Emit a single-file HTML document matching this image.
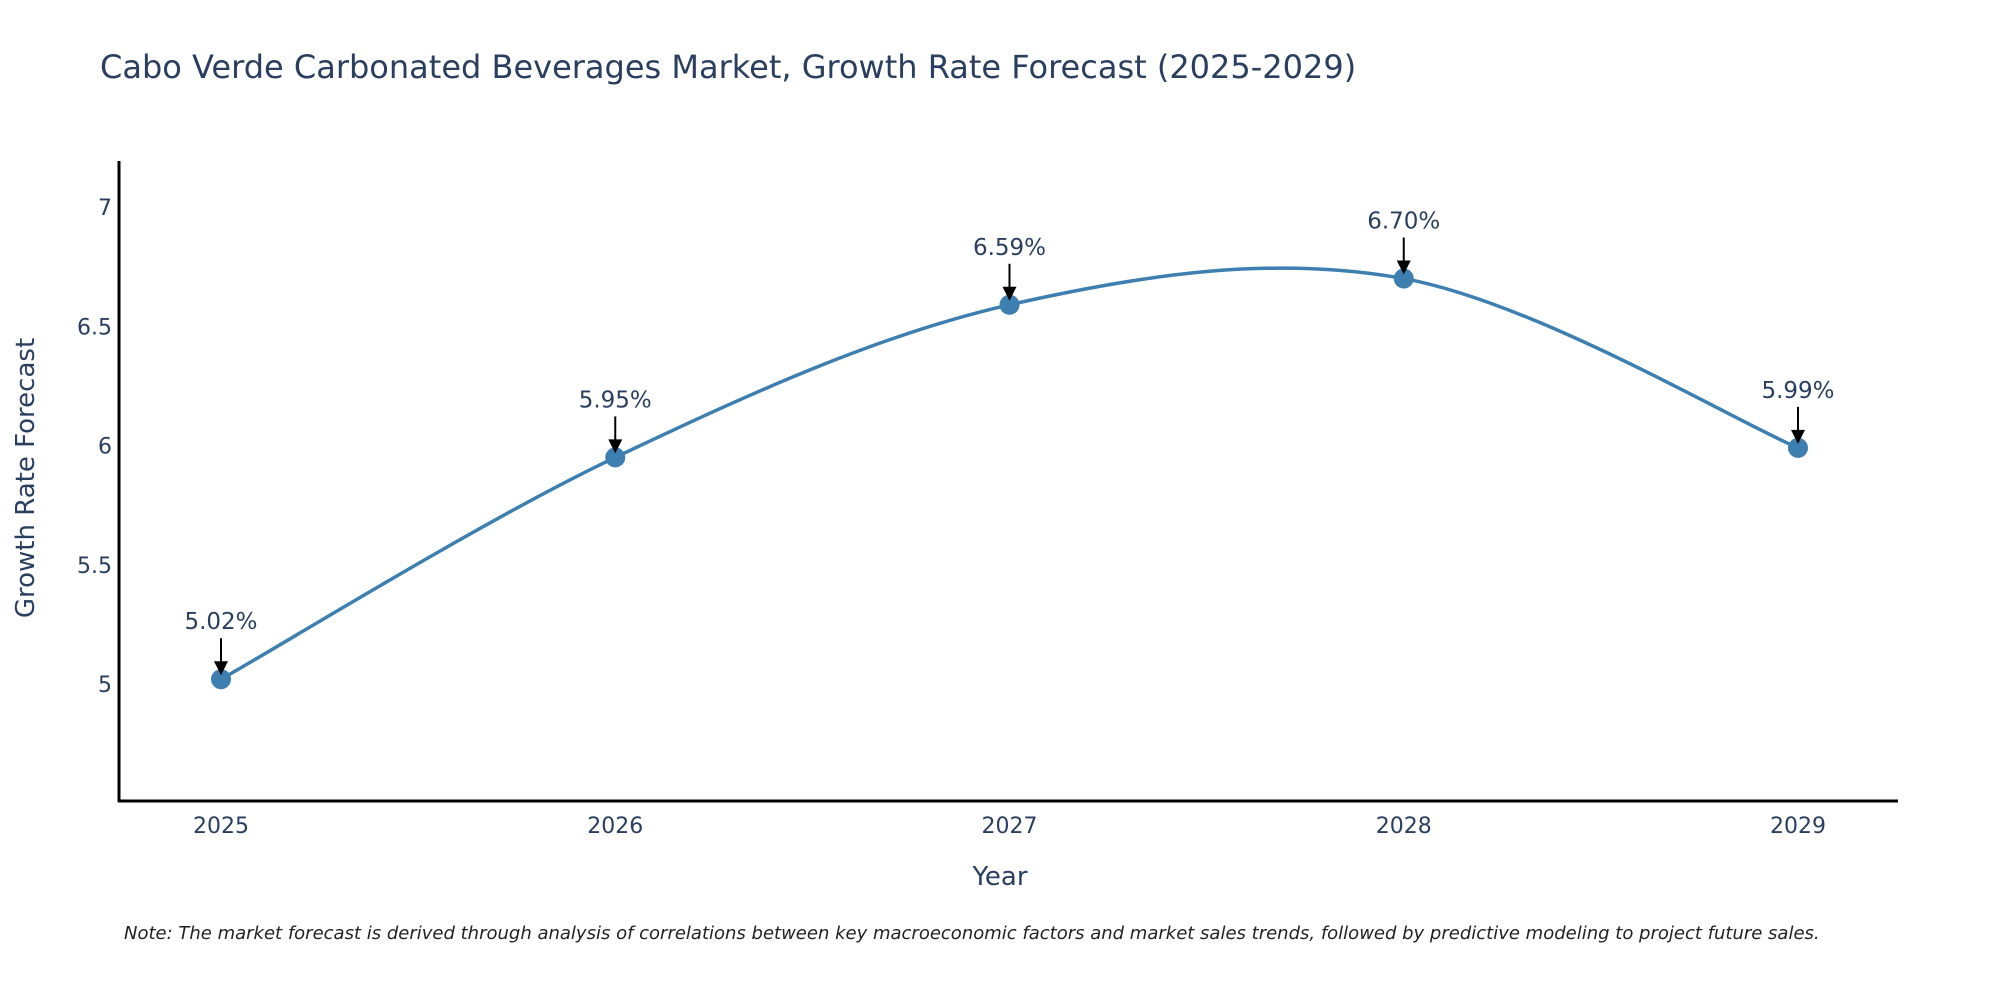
<!DOCTYPE html>
<html><head><meta charset="utf-8"><style>
body{margin:0;background:#fff;overflow:hidden;}
svg{display:block;font-family:"DejaVu Sans","Liberation Sans",sans-serif;}
</style></head><body>
<svg id="chart" width="2000" height="1000">
<text x="100" y="78" font-size="32" fill="#2a3f5f">Cabo Verde Carbonated Beverages Market, Growth Rate Forecast (2025-2029)</text>
<g id="plot"></g>
<text x="1000" y="885" font-size="26" fill="#2a3f5f" text-anchor="middle">Year</text>
<text transform="translate(34,478) rotate(-90)" font-size="26" fill="#2a3f5f" text-anchor="middle">Growth Rate Forecast</text>
<text x="124" y="939" font-size="18" font-style="italic" fill="#222">Note: The market forecast is derived through analysis of correlations between key macroeconomic factors and market sales trends, followed by predictive modeling to project future sales.</text>
</svg>
<script>
const years = [2025, 2026, 2027, 2028, 2029];
const values = [5.02, 5.95, 6.59, 6.70, 5.99];
const labels = ["5.02%", "5.95%", "6.59%", "6.70%", "5.99%"];
const yTicks = [5, 5.5, 6, 6.5, 7];

const NS = "http://www.w3.org/2000/svg";
const g = document.getElementById('plot');
const xL = 119, xR = 1898, yT = 161, yB = 801;
const x = v => 221 + (v - 2025) * 394.25;
const y = v => 684 - (v - 5) * 238.5;
function mk(tag, attrs, parent) {
  const e = document.createElementNS(NS, tag);
  for (const k in attrs) e.setAttribute(k, attrs[k]);
  (parent || g).appendChild(e);
  return e;
}
let a = mk('line', {x1: xL, y1: yT, x2: xL, y2: yB + 1, stroke: '#000', 'stroke-width': 3});


a = mk('line', {x1: xL - 1, y1: yB, x2: xR, y2: yB, stroke: '#000', 'stroke-width': 3});


yTicks.forEach(t => {
  const e = mk('text', {x: 112, y: y(t) + 8, 'font-size': 22, fill: '#2a3f5f', 'text-anchor': 'end'});
  e.textContent = String(t);
  
  
});
years.forEach(t => {
  const e = mk('text', {x: x(t), y: 833, 'font-size': 22, fill: '#2a3f5f', 'text-anchor': 'middle'});
  e.textContent = String(t);
  
  
});
const pts = years.map((yr, i) => [x(yr), y(values[i])]);
let d = 'M' + pts[0][0] + ',' + pts[0][1];
const s = 0.5;
for (let i = 0; i < pts.length - 1; i++) {
  const p0 = pts[Math.max(0, i - 1)], p1 = pts[i], p2 = pts[i + 1], p3 = pts[Math.min(pts.length - 1, i + 2)];
  const c1 = [p1[0] + (p2[0] - p0[0]) * s / 3, p1[1] + (p2[1] - p0[1]) * s / 3];
  const c2 = [p2[0] - (p3[0] - p1[0]) * s / 3, p2[1] - (p3[1] - p1[1]) * s / 3];
  d += ' C' + c1[0] + ',' + c1[1] + ' ' + c2[0] + ',' + c2[1] + ' ' + p2[0] + ',' + p2[1];
}
const line = mk('path', {d: d, fill: 'none', stroke: '#3d7fb0', 'stroke-width': 3.5});


pts.forEach((p, i) => {
  const c = mk('circle', {cx: p[0], cy: p[1], r: 10, fill: '#3d7fb0'});
  
  
  const l = mk('line', {x1: p[0], y1: p[1] - 41, x2: p[0], y2: p[1] - 16, stroke: '#000', 'stroke-width': 2});
  
  
  const h = mk('path', {d: `M${p[0] - 7},${p[1] - 18} L${p[0] + 7},${p[1] - 18} L${p[0]},${p[1] - 4} Z`, fill: '#000'});
  
  
  const t = mk('text', {x: p[0], y: p[1] - 50, 'font-size': 23, fill: '#2a3f5f', 'text-anchor': 'middle'});
  t.textContent = labels[i];
  
  
});
</script>
</body></html>
